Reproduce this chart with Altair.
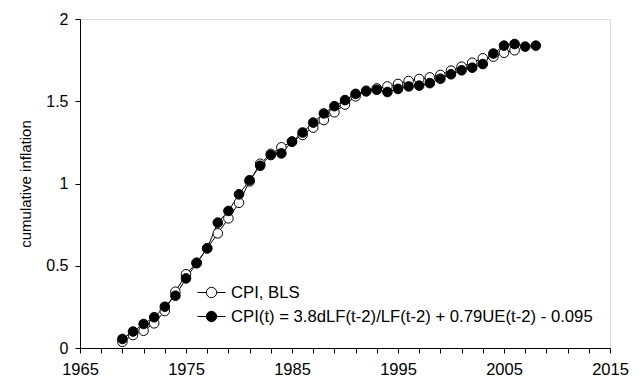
import altair as alt
import pandas as pd

# ---- data ----
model_years = list(range(1969, 2009))
model_vals = [0.055, 0.10, 0.146, 0.187, 0.251, 0.318, 0.423, 0.515, 0.606, 0.762,
              0.833, 0.934, 1.02, 1.108, 1.173, 1.183, 1.254, 1.31, 1.37, 1.426,
              1.47, 1.507, 1.545, 1.56, 1.57, 1.556, 1.575, 1.59, 1.595, 1.61,
              1.637, 1.664, 1.688, 1.704, 1.726, 1.79, 1.838, 1.848, 1.832, 1.838]

cpi_years = list(range(1969, 2007))
cpi_vals = [0.038, 0.079, 0.105, 0.15, 0.225, 0.342, 0.448, 0.519, 0.606, 0.697,
            0.788, 0.883, 1.013, 1.12, 1.18, 1.22, 1.255, 1.295, 1.34, 1.386,
            1.433, 1.48, 1.53, 1.564, 1.578, 1.59, 1.605, 1.623, 1.635, 1.645,
            1.66, 1.686, 1.71, 1.734, 1.761, 1.771, 1.795, 1.81]

series_names = ["CPI, BLS", "CPI(t) = 3.8dLF(t-2)/LF(t-2) + 0.79UE(t-2) - 0.095"]
series_fills = ["white", "black"]

x_ticks = list(range(1965, 2016, 2))
y_ticks = [0, 0.5, 1, 1.5, 2]

rows = []
for i, (yr, v) in enumerate(zip(cpi_years, cpi_vals)):
    rows.append({"year": yr, "value": v, "series": series_names[0], "ord": i})
for i, (yr, v) in enumerate(zip(model_years, model_vals)):
    rows.append({"year": yr, "value": v, "series": series_names[1], "ord": 1000 + i})
df = pd.DataFrame(rows)

FONT = "Liberation Sans"

x = alt.X("year:Q",
          scale=alt.Scale(domain=[1965, 2015], nice=False, zero=False),
          axis=alt.Axis(title=None, values=x_ticks, format="d",
                        labelExpr="datum.value % 10 == 5 ? datum.label : ''",
                        grid=False, tickSize=5, labelPadding=8,
                        labelFontSize=16.5, labelFont=FONT, labelColor="black",
                        domainColor="black", tickColor="black",
                        labelFlush=False, labelOverlap=False))
y = alt.Y("value:Q",
          scale=alt.Scale(domain=[0, 2], nice=False),
          axis=alt.Axis(title="cumulative inflation", values=y_ticks, format="~g",
                        grid=False, tickSize=5, labelPadding=7,
                        labelFontSize=16, labelFont=FONT, labelColor="black",
                        titleFontSize=15, titleFont=FONT, titleFontWeight="normal",
                        titleColor="black", titlePadding=12,
                        domainColor="black", tickColor="black"))

legend_path = ("M-1,0L-0.37,0M0.37,0L1,0"
               "M-0.37,0A0.37,0.37,0,1,1,0.37,0A0.37,0.37,0,1,1,-0.37,0Z")

lines = alt.Chart(df).mark_line(color="black", strokeWidth=1).encode(
    x=x, y=y, detail="series:N", order="year:Q"
)

points = alt.Chart(df).mark_point(filled=True, size=92, stroke="black",
                                  strokeWidth=1, opacity=1).encode(
    x=x, y=y,
    order=alt.Order("ord:Q"),
    fill=alt.Fill("series:N",
                  scale=alt.Scale(domain=series_names, range=series_fills),
                  legend=alt.Legend(title=None, orient="none",
                                    legendX=117, legendY=259,
                                    symbolType=legend_path, symbolSize=784,
                                    symbolStrokeColor="black", symbolStrokeWidth=1,
                                    symbolOpacity=1,
                                    labelFontSize=16.7, labelFont=FONT,
                                    labelColor="black", labelOffset=5,
                                    rowPadding=0, padding=0, labelLimit=0))
)

chart = alt.layer(lines, points).properties(
    width=530, height=329,
    padding={"left": 72, "top": 11, "right": 20, "bottom": 36},
    autosize=alt.AutoSizeParams(type="none"),
).configure_view(stroke=None).configure(background="white")

chart.save("out.html", embed_options={"renderer": "svg", "actions": False})
